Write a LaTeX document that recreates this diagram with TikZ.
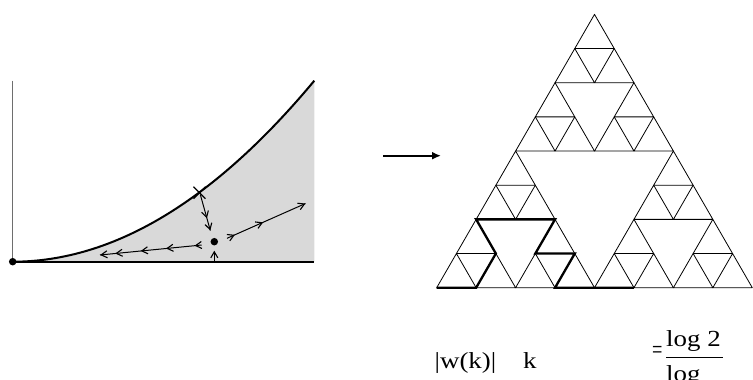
\documentclass[tikz,border=0pt]{standalone}
\usepackage{fontspec}
\setmainfont{Liberation Serif}
\usetikzlibrary{arrows.meta,decorations.markings,calc}
\definecolor{regionfill}{RGB}{217,217,217}
\definecolor{axisgrey}{RGB}{110,110,110}
\tikzset{
  thinedge/.style={line width=0.8pt,line join=round},
  thickedge/.style={line width=2.3pt,line join=miter},
  flow/.style={line width=1pt},
  barb/.tip={Straight Barb[length=6pt,width=7pt,line width=1.1pt]},
  lbl/.style={inner sep=0pt,anchor=base west,font=\fontsize{23}{27}\selectfont},
  fixpt/.style={circle,fill=black,inner sep=0pt,minimum size=7.5pt}
}
\begin{document}
\begin{tikzpicture}[x=1pt,y=-1pt]
\path[use as bounding box] (0,0) rectangle (753,380);
\clip (0,0) rectangle (753,380);

% ---------- left panel: phase plane ----------
\coordinate (O) at (12.7,261.7);
\coordinate (E) at (314.3,80.7);
\coordinate (BR) at (314.3,261.7);
\coordinate (Atop) at (12.7,80.7);
\fill[regionfill] (O) .. controls (113.2,261.7) and (213.8,201.4) .. (E) -- (BR) -- cycle;
\draw[axisgrey,line width=1pt] (Atop) -- (O);
\draw[line width=2pt] (O) .. controls (113.2,261.7) and (213.8,201.4) .. (E);
\draw[line width=2.3pt] (O) -- (BR);
\node[fixpt] (dot0) at (O) {};
\node[fixpt] (dot1) at (214.3,241.7) {};

% X mark on the curve
\coordinate (X) at (199.5,192.7);
\draw[line width=1.2pt] ($(X)+(-6,-6)$) -- ($(X)+(6,6)$);
\draw[line width=1.2pt] ($(X)+(-6,6)$) -- ($(X)+(6,-6)$);

% flow lines
\coordinate (d1) at (200.3,194.5);
\coordinate (d2) at (210.3,230.5);
\draw[flow,decoration={markings,
  mark=at position 0.66 with {\arrow{barb}},
  mark=at position 0.999 with {\arrow{barb}}},postaction=decorate] (d1) -- (d2);

\coordinate (u1) at (214.3,261.7);
\coordinate (u2) at (214.3,250.7);
\draw[flow,-{barb}] (u1) -- (u2);

\coordinate (l1) at (201.7,245);
\coordinate (l2) at (100,255);
\draw[flow,decoration={markings,
  mark=at position 0.07 with {\arrow{barb}},
  mark=at position 0.35 with {\arrow{barb}},
  mark=at position 0.60 with {\arrow{barb}},
  mark=at position 0.85 with {\arrow{barb}},
  mark=at position 0.999 with {\arrow{barb}}},postaction=decorate] (l1) -- (l2);

\coordinate (r1) at (227,238.3);
\coordinate (r2) at (305.5,203.5);
\draw[flow,decoration={markings,
  mark=at position 0.10 with {\arrow{barb}},
  mark=at position 0.46 with {\arrow{barb}},
  mark=at position 0.999 with {\arrow{barb}}},postaction=decorate] (r1) -- (r2);

% ---------- arrow between panels ----------
\coordinate (m1) at (383.3,155.7);
\coordinate (m2) at (441,155.7);
\draw[line width=2.2pt,-{Latex[length=9pt,width=8pt]}] (m1) -- (m2);

% ---------- right panel: Sierpinski gasket ----------
\begin{scope}[shift={(436.7,287.7)},x={(39.45pt,0pt)},y={(0pt,34.165pt)}]
  \foreach \a/\b in {0/0,4/0,2/4}
    \foreach \c/\d in {0/0,2/0,1/2}
      \foreach \e/\f in {0/0,1/0,0.5/1}
        \draw[thinedge] ({\a+\c+\e},{\b+\d+\f}) -- ++(1,0) -- ++(-0.5,1) -- cycle;
  \draw[thickedge] (0,0) -- (1,0) -- (1.5,1) -- (1,2) -- (3,2) -- (2.5,1) -- (3.5,1) -- (3,0) -- (5,0);
\end{scope}

% ---------- formula ----------
\node[lbl] (w) at (434.5,368.3) {\scalebox{1.17}[1]{|w(k)|}};
\node[lbl] (k) at (523,368.3) {\scalebox{1.17}[1]{k}};
\node[lbl] (eq) at (652,358.8) {\scalebox{0.8}[1.15]{=}};
\node[lbl] (num) at (666,346.7) {\scalebox{1.17}[1]{log 2}};
\node[lbl] (den) at (666,381.7) {\scalebox{1.17}[1]{log}};
\coordinate (barL) at (666,357.3);
\coordinate (barR) at (723,357.3);
\draw[line width=1pt] (barL) -- (barR);
\end{tikzpicture}
\end{document}
